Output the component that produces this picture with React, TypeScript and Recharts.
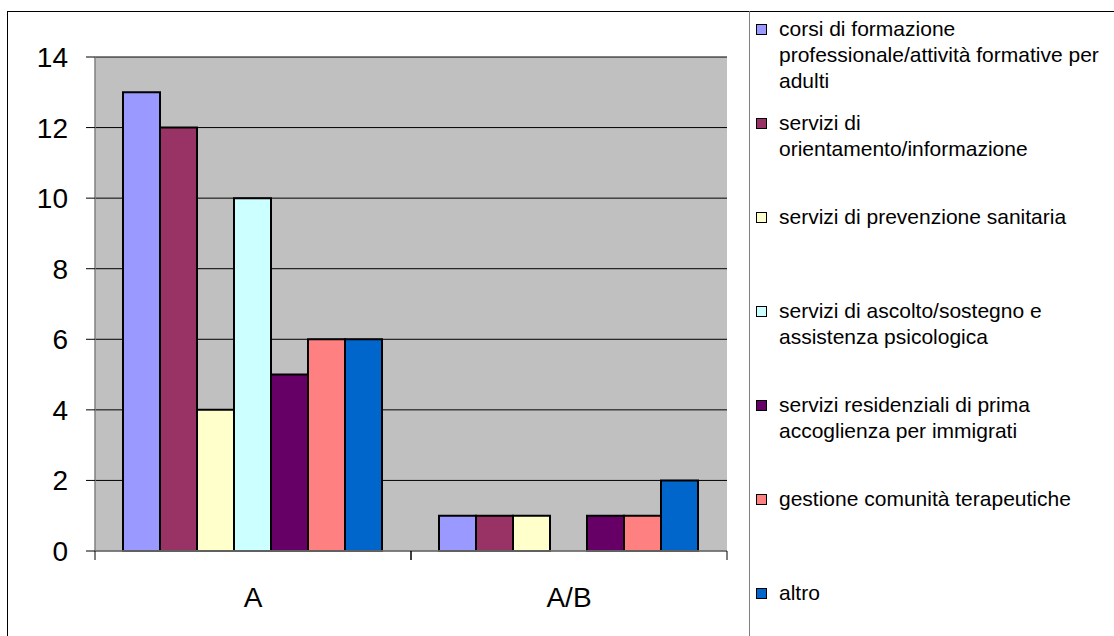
import { BarChart, Bar, XAxis, YAxis, CartesianGrid, Legend } from 'recharts';

const FONT = '"Liberation Sans", Arial, sans-serif';

const CATEGORIES = ['A', 'A/B'];
const SERIES_NAMES = [
  'corsi di formazione professionale/attività formative per adulti',
  'servizi di orientamento/informazione',
  'servizi di prevenzione sanitaria',
  'servizi di ascolto/sostegno e assistenza psicologica',
  'servizi residenziali di prima accoglienza per immigrati',
  'gestione comunità terapeutiche',
  'altro',
];
const SERIES_COLORS = ['#9999FF', '#993366', '#FFFFCC', '#CCFFFF', '#660066', '#FF8080', '#0066CC'];
const CORSI = [13, 1];
const ORIENTAMENTO = [12, 1];
const PREVENZIONE = [4, 1];
const ASCOLTO = [10, 0];
const RESIDENZIALI = [5, 1];
const COMUNITA = [6, 1];
const ALTRO = [6, 2];
const Y_TICKS = [0, 2, 4, 6, 8, 10, 12, 14];

const SERIES_VALUES = [CORSI, ORIENTAMENTO, PREVENZIONE, ASCOLTO, RESIDENZIALI, COMUNITA, ALTRO];

const data = CATEGORIES.map((cat, i) => {
  const row: Record<string, string | number> = { name: cat };
  SERIES_VALUES.forEach((vals, s) => {
    row[`s${s}`] = vals[i];
  });
  return row;
});

// category label in the middle, tick marks on the band edges (Excel style)
const CategoryTick = (props: any) => {
  const { x, y, payload } = props;
  const half = payload?.offset ?? 0;
  return (
    <g>
      {half > 0 && (
        <>
          <line x1={x - half} x2={x - half} y1={y} y2={y + 9} stroke="#000" />
          <line x1={x + half} x2={x + half} y1={y} y2={y + 9} stroke="#000" />
        </>
      )}
      <text
        x={x}
        y={y + 46}
        textAnchor="middle"
        dominantBaseline="central"
        fontSize={28}
        fontFamily={FONT}
        fill="#000"
      >
        {payload.value}
      </text>
    </g>
  );
};

const LegendContent = (props: any) => {
  // keep the series order, not the alphabetical one
  const items = [...(props.payload || [])].sort(
    (a: any, b: any) => SERIES_NAMES.indexOf(a.value) - SERIES_NAMES.indexOf(b.value)
  );
  return (
    <div style={{ paddingTop: 5 }}>
      {items.map((entry: any) => (
        <div
          key={entry.value}
          style={{ height: 94, display: 'flex', alignItems: 'flex-start', fontFamily: FONT, fontSize: 21, lineHeight: '26px', color: '#000' }}
        >
          <span
            style={{
              display: 'inline-block',
              width: 9,
              height: 9,
              marginTop: 8,
              marginLeft: 6,
              marginRight: 12,
              background: entry.color,
              border: '1.5px solid #000',
              flexShrink: 0,
            }}
          />
          <span style={{ width: 328 }}>{entry.value}</span>
        </div>
      ))}
    </div>
  );
};

export default function App() {
  return (
    <div style={{ position: 'absolute', left: 0, top: 0, width: 1114, height: 636, overflow: 'hidden', background: '#fff' }}>
      <div
        style={{ position: 'absolute', left: 7, top: 11, width: 1120, height: 640, border: '1px solid #000', boxSizing: 'border-box' }}
      />
      <div style={{ position: 'absolute', left: 0, top: 0 }}>
        <BarChart
          width={1114}
          height={636}
          data={data}
          margin={{ top: 57, right: 387, bottom: 45, left: 35 }}
          barCategoryGap={28}
          barGap={0}
        >
          <CartesianGrid vertical={false} stroke="#000" fill="#C0C0C0" fillOpacity={1} />
          <XAxis
            dataKey="name"
            height={40}
            axisLine={{ stroke: '#808080', strokeWidth: 1.5 }}
            tickLine={false}
            tickSize={0}
            tickMargin={0}
            tick={<CategoryTick />}
            interval={0}
          />
          <XAxis xAxisId="top" dataKey="name" orientation="top" height={0} tick={false} tickLine={false} axisLine={{ stroke: '#808080', strokeWidth: 1.5 }} />
          <YAxis
            width={60}
            domain={[0, 14]}
            ticks={Y_TICKS}
            interval={0}
            axisLine={{ stroke: '#808080', strokeWidth: 1.5 }}
            tickLine={{ stroke: '#000' }}
            tickSize={9}
            tickMargin={18}
            tick={{ fontSize: 28, fill: '#000', fontFamily: FONT }}
          />
          <YAxis yAxisId="right" orientation="right" width={0} tick={false} tickLine={false} axisLine={{ stroke: '#808080', strokeWidth: 1.5 }} />
          <Legend
            layout="vertical"
            align="center"
            verticalAlign="middle"
            content={<LegendContent />}
            wrapperStyle={{ left: 749, top: 11, width: 365, height: 625, borderLeft: '1px solid #808080', boxSizing: 'border-box' }}
          />
          {SERIES_NAMES.map((name, s) => (
            <Bar
              key={name}
              dataKey={`s${s}`}
              name={name}
              fill={SERIES_COLORS[s]}
              stroke="#000"
              strokeWidth={2}
              isAnimationActive={false}
            />
          ))}
        </BarChart>
      </div>
    </div>
  );
}
